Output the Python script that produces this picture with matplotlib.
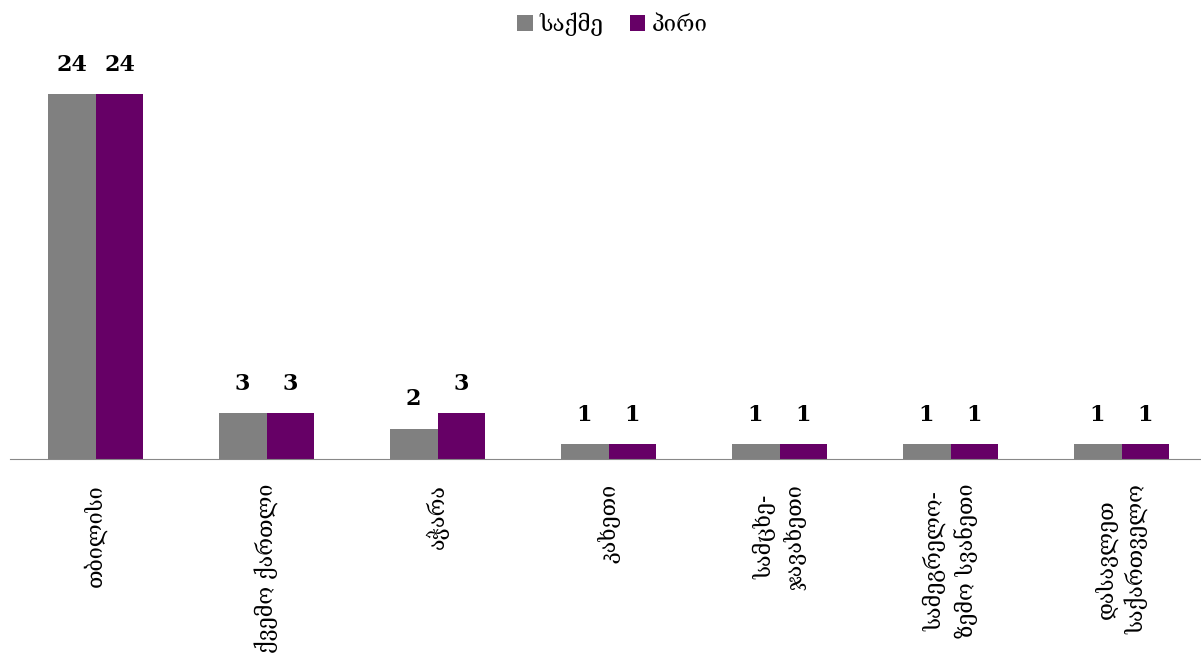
import matplotlib
matplotlib.use("Agg")
import matplotlib.pyplot as plt
import numpy as np

categories = ["თბილისი", "ქვემო ქართლი", "აჭარა", "კახეთი",
              "სამცხე-\nჯავახეთი", "სამეგრელო-\nზემო სვანეთი", "დასავლეთ\nსაქართველო"]
cases = [24, 3, 2, 1, 1, 1, 1]
persons = [24, 3, 3, 1, 1, 1, 1]
series_names = ["საქმე", "პირი"]
colors = ["#808080", "#660066"]

plt.rcParams['font.family'] = ['DejaVu Serif', 'DejaVu Sans']

fig = plt.figure(figsize=(12.01, 6.65), dpi=100)
ax = fig.add_axes([10/1201, (665-459)/665, 1197/1201, (459-33)/665])

x = np.arange(len(categories))
w = 0.28
b1 = ax.bar(x - w/2, cases, w, color=colors[0], label=series_names[0])
b2 = ax.bar(x + w/2, persons, w, color=colors[1], label=series_names[1])

for bars, vals in ((b1, cases), (b2, persons)):
    for r, v in zip(bars, vals):
        ax.text(r.get_x() + r.get_width()/2, v + 1.2, str(v), ha='center', va='bottom',
                fontsize=16, fontweight='bold', color='black')

ax.set_xlim(-0.5, len(categories) - 0.5)
ax.set_ylim(0, 28)
ax.set_yticks([])
ax.set_xticks(x)
ax.set_xticklabels(categories, rotation=90, fontsize=15.5, va='top', ha='center', linespacing=1.4)
ax.tick_params(axis='x', length=0, pad=18)
for s in ['top', 'right', 'left']:
    ax.spines[s].set_visible(False)
ax.spines['bottom'].set_color('#888888')

fig.legend(handles=[b1, b2], loc='upper center', bbox_to_anchor=(0.51, 1.012), ncol=2,
           frameon=False, fontsize=16, handlelength=0.7, handleheight=0.7,
           columnspacing=1.2, handletextpad=0.3)

fig.savefig("out.png", dpi=100)
